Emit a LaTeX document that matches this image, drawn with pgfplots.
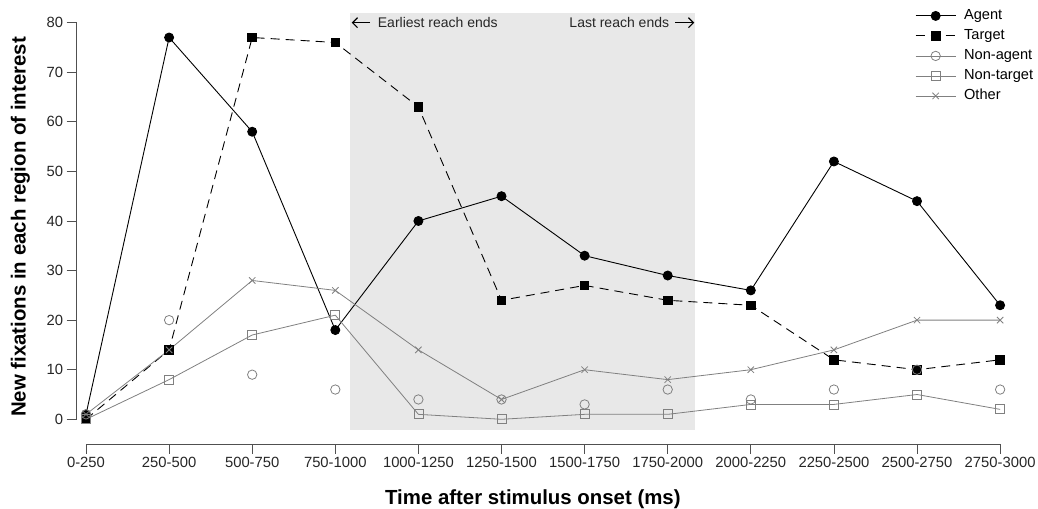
\documentclass[border=0pt]{standalone}
\usepackage{pgfplots}
\pgfplotsset{compat=1.18}
\usepackage{fontspec}
\setmainfont{Liberation Sans}
\usetikzlibrary{arrows.meta}
\definecolor{axisgray}{HTML}{505050}
\definecolor{sergray}{HTML}{808080}
\definecolor{shadecol}{HTML}{E8E8E8}
\begin{document}
\begin{tikzpicture}
\begin{axis}[
  x=83.1bp, y=4.958bp,
  xmin=-0.112, xmax=11, ymin=-4.98, ymax=82,
  clip=false,
  axis x line*=bottom, axis y line*=left,
  x axis line style={-, color=axisgray, line width=0.8bp, shorten <=9.31bp},
  y axis line style={-, color=axisgray, line width=0.8bp, shorten <=24.69bp, shorten >=9.92bp},
  tick align=outside, major tick length=10bp,
  tick style={color=axisgray, line width=0.8bp},
  xtick={0,...,11},
  xticklabels={0-250,250-500,500-750,750-1000,1000-1250,1250-1500,1500-1750,1750-2000,2000-2250,2250-2500,2500-2750,2750-3000},
  ytick={0,10,...,80},
  /pgf/number format/assume math mode=true,
  tick label style={font=\fontsize{14.8bp}{17bp}\selectfont, color=black!85},
  xlabel={Time after stimulus onset (ms)},
  ylabel={New fixations in each region of interest},
  label style={font=\fontsize{20.4bp}{24bp}\selectfont\bfseries},
  xlabel style={at={(axis description cs:0.494,-0.127)}, anchor=center},
  ylabel style={at={(axis description cs:-0.0609,0.503)}, anchor=center},
  legend image code/.code={\draw[mark repeat=2,mark phase=2] plot coordinates {(0bp,0bp) (20bp,0bp) (40bp,0bp)};},
  legend style={at={(axis cs:9.94,83.16)}, anchor=north west, draw=none, fill=none,
    font=\fontsize{14.6bp}{17bp}\selectfont, column sep=8bp, row sep=6.5bp,
    nodes={inner sep=0bp, text height=10.5bp, text depth=3bp}},
  legend cell align=left,
]
\fill[shadecol] (axis cs:3.177,-2.16) rectangle (axis cs:7.33,81.9);
\draw[-{Straight Barb[length=5bp,width=10bp,line width=1.2bp]}, line width=1bp] (axis cs:3.418,80) -- (axis cs:3.197,80);
\node[anchor=west, inner sep=0pt, font=\fontsize{14bp}{17bp}\selectfont, color=black!85] at (axis cs:3.510,80) {Earliest reach ends};
\draw[-{Straight Barb[length=5bp,width=10bp,line width=1.2bp]}, line width=1bp] (axis cs:7.088,80) -- (axis cs:7.32,80);
\node[anchor=east, inner sep=0pt, font=\fontsize{14bp}{17bp}\selectfont, color=black!85] at (axis cs:7.019,80) {Last reach ends};

\addplot[black, line width=0.9bp, mark=*, mark size=4.5bp, mark options={solid}] coordinates {
(0,1) (1,77) (2,58) (3,18) (4,40) (5,45) (6,33) (7,29) (8,26) (9,52) (10,44) (11,23)};
\addlegendentry{Agent}
\addplot[black, line width=0.9bp, dash pattern=on 9bp off 6bp, mark=square*, mark size=4.3bp, mark options={solid}] coordinates {
(0,0) (1,14) (2,77) (3,76) (4,63) (5,24) (6,27) (7,24) (8,23) (9,12) (10,10) (11,12)};
\addlegendentry{Target}
\addlegendimage{sergray, line width=0.8bp, mark=o, mark size=4.7bp}
\addlegendentry{Non-agent}
\addplot[sergray, line width=0.8bp, only marks, mark=o, mark size=4.7bp, forget plot] coordinates {
(0,1) (1,20) (2,9) (3,6) (4,4) (5,4) (6,3) (7,6) (8,4) (9,6) (10,10) (11,6)};
\addplot[sergray, line width=0.8bp, mark=square, mark size=4.5bp] coordinates {
(0,0) (1,8) (2,17) (3,21) (4,1) (5,0) (6,1) (7,1) (8,3) (9,3) (10,5) (11,2)};
\addlegendentry{Non-target}
\addplot[sergray, line width=0.8bp, mark=x, mark size=4.5bp] coordinates {
(0,1) (1,14) (2,28) (3,26) (4,14) (5,4) (6,10) (7,8) (8,10) (9,14) (10,20) (11,20)};
\addlegendentry{Other}

\coordinate (tl) at (axis cs:-1.035,84.57);
\coordinate (br) at (axis cs:11.456,-18.09);
\end{axis}
\pgfresetboundingbox
\useasboundingbox (tl) rectangle (br);
\end{tikzpicture}
\end{document}
